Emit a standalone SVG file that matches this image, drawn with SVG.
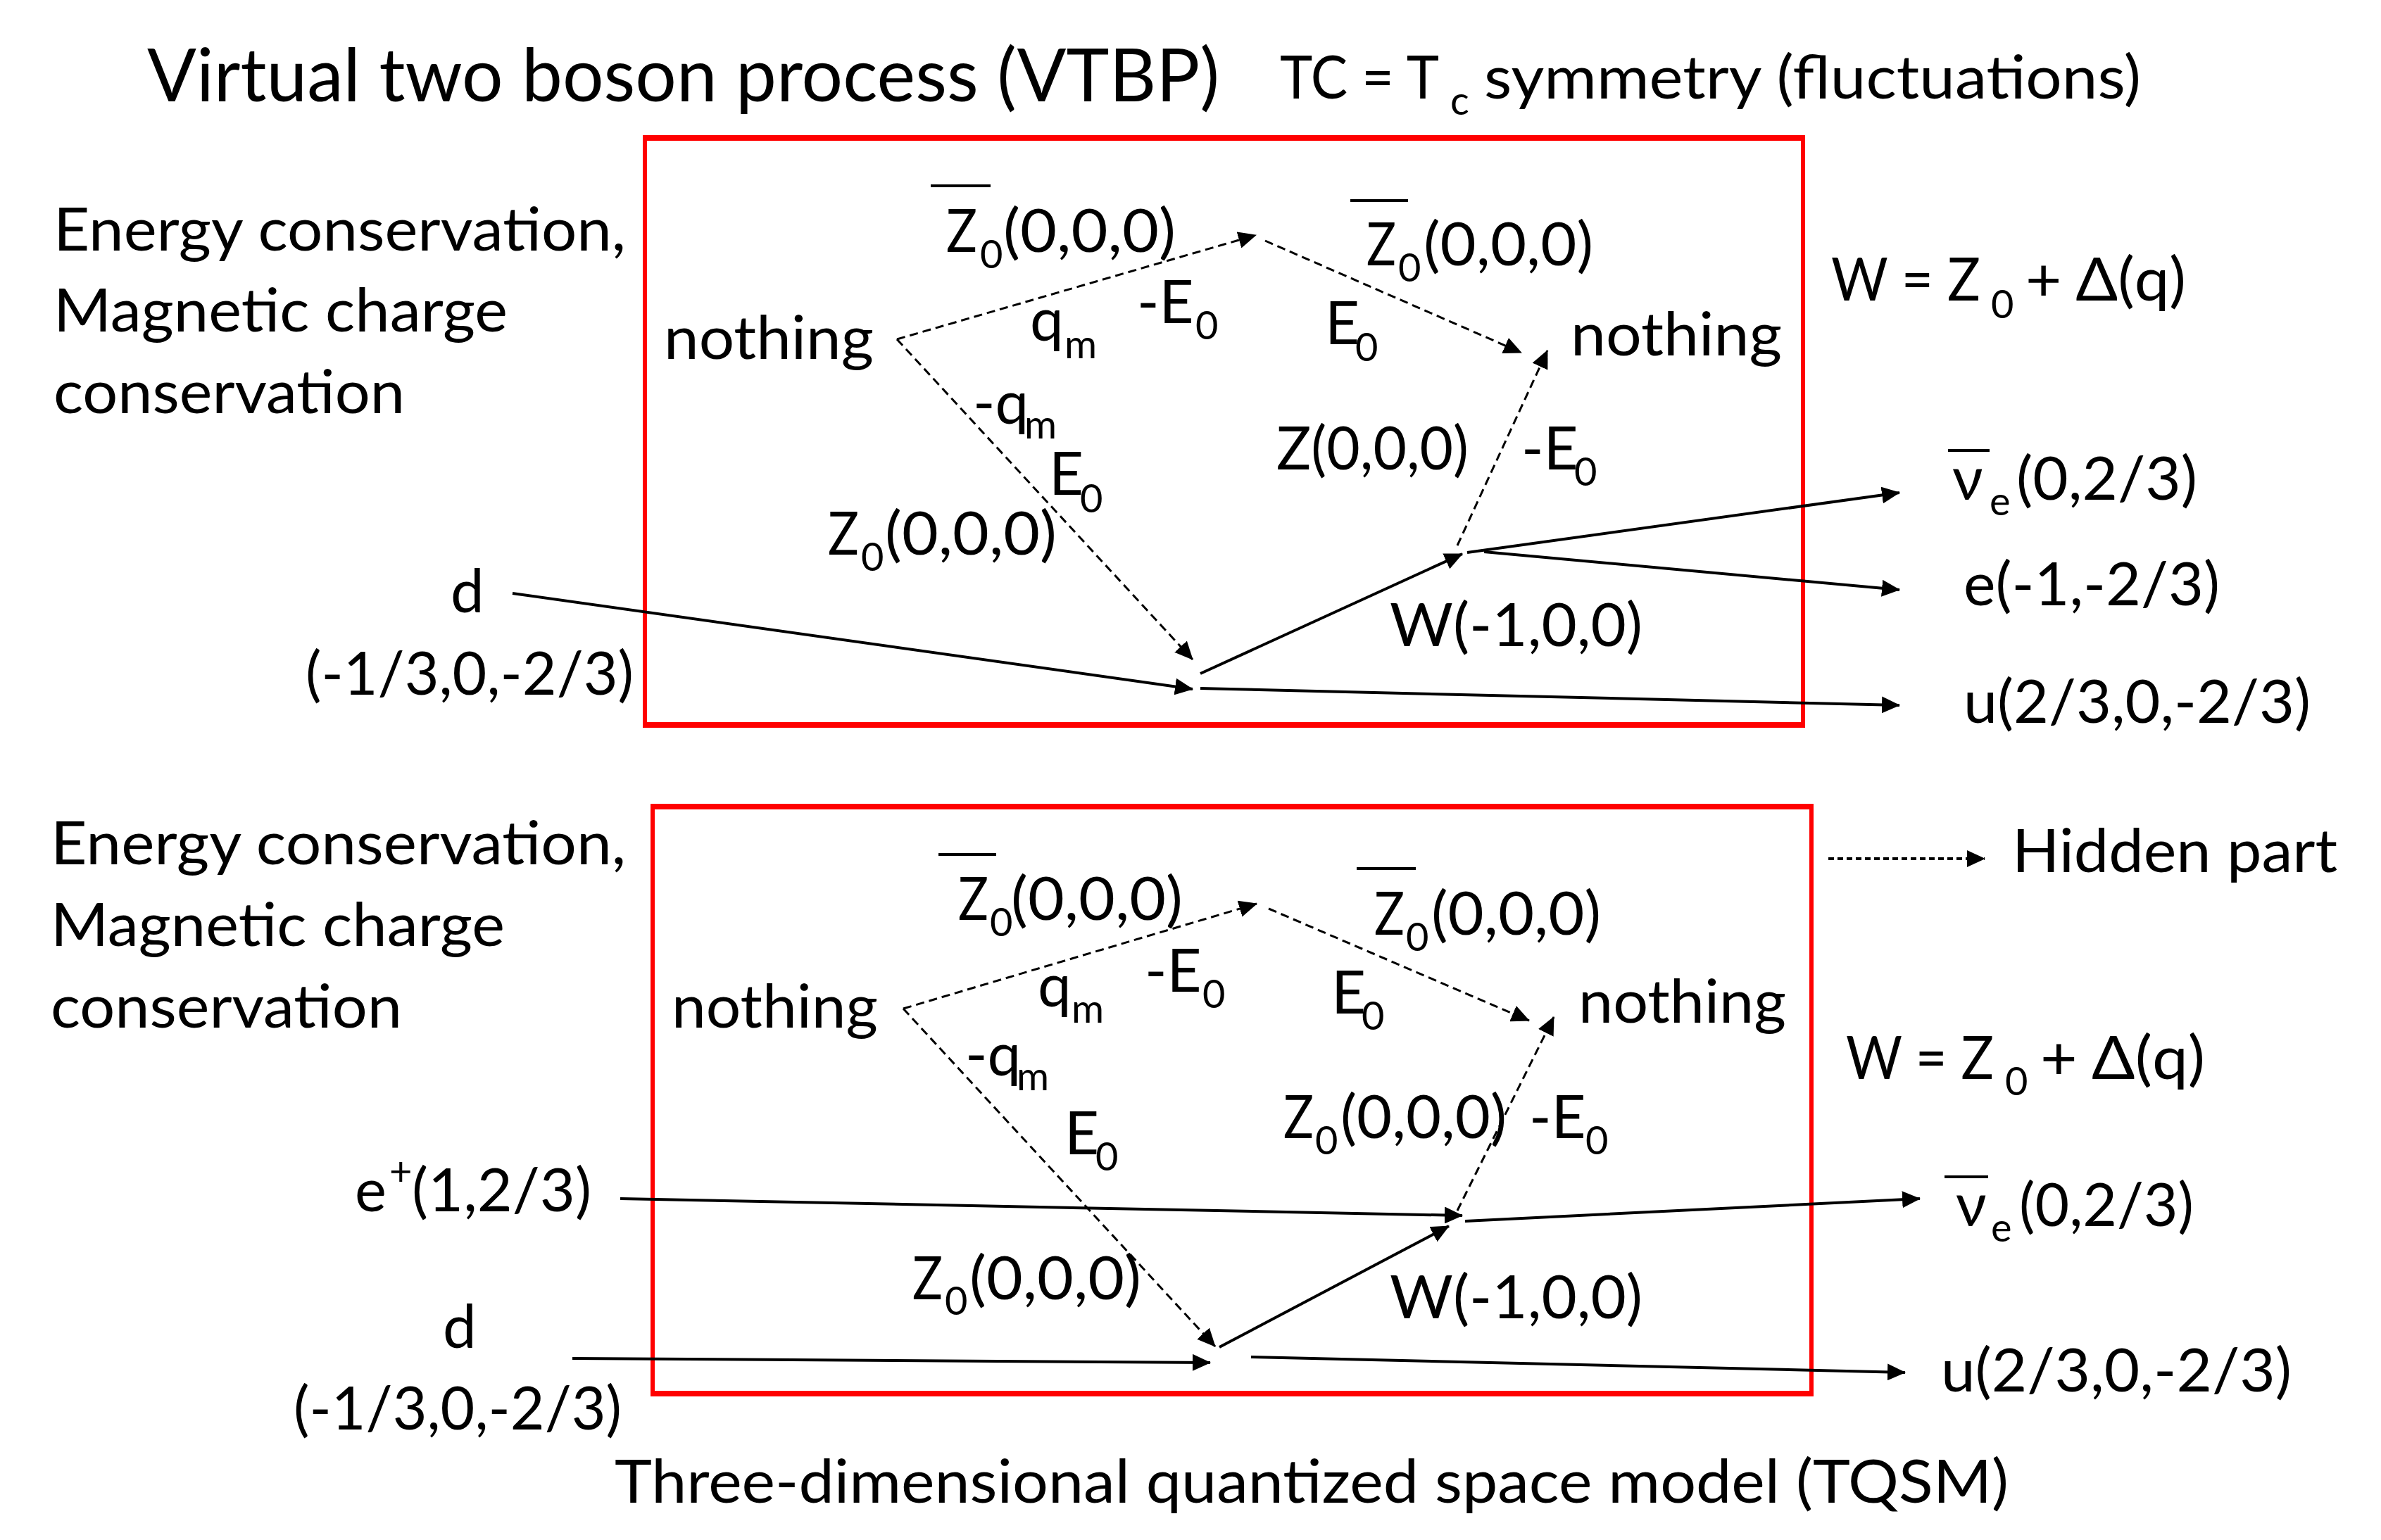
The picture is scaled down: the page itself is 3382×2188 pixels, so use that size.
<svg xmlns="http://www.w3.org/2000/svg" width="3382" height="2188" viewBox="0 0 3382 2188">
<style>
.t{font-family:Lato,"Open Sans","Liberation Sans",sans-serif;font-size:85px;fill:#000}
.s{font-size:56px}
.title{font-size:105px}
.box{fill:none;stroke:#f00;stroke-width:6}
.boxh{stroke:#f00;stroke-width:8}
.sol{stroke:#000;stroke-width:4;fill:none;marker-end:url(#ah)}
.dash{stroke:#000;stroke-width:3;fill:none;stroke-dasharray:12 7;marker-end:url(#ah)}
.dot{stroke:#000;stroke-width:4;fill:none;stroke-dasharray:8 5;marker-end:url(#ah)}
.bar{stroke:#000;stroke-width:4}
</style>
<defs>
<marker id="ah" markerUnits="userSpaceOnUse" markerWidth="26" markerHeight="24" refX="25" refY="12" orient="auto"><path d="M0,0 L26,12 L0,24 z" fill="#000"/></marker>
</defs>
<rect width="3382" height="2188" fill="#fff"/>

<g id="headers">
<text class="t title" x="209" y="144" textLength="1523" lengthAdjust="spacingAndGlyphs">Virtual two boson process (VTBP)</text>
<text class="t" x="1818" y="140" textLength="226" lengthAdjust="spacingAndGlyphs">TC = T</text>
<text class="t s" x="2060" y="163">c</text>
<text class="t" x="2108" y="140" textLength="933" lengthAdjust="spacingAndGlyphs">symmetry (fluctuations)</text>
<text class="t" x="873" y="2135" textLength="1980" lengthAdjust="spacingAndGlyphs">Three-dimensional quantized space model (TQSM)</text>
</g>

<g id="boxes">
<rect class="box" x="916" y="196" width="1645" height="834"/>
<line class="boxh" x1="913" y1="196" x2="2564" y2="196"/>
<line class="boxh" x1="913" y1="1030" x2="2564" y2="1030"/>
<rect class="box" x="927" y="1146" width="1646" height="834"/>
<line class="boxh" x1="924" y1="1146" x2="2576" y2="1146"/>
<line class="boxh" x1="924" y1="1980" x2="2576" y2="1980"/>
</g>

<g id="connectors">
<line class="dash" x1="1274" y1="482" x2="1784" y2="334"/>
<line class="dash" x1="1797" y1="342" x2="2161" y2="501"/>
<line class="dash" x1="1274" y1="482" x2="1694" y2="937"/>
<line class="dash" x1="2070" y1="775" x2="2198" y2="498"/>
<line class="sol" x1="728" y1="843" x2="1694" y2="979"/>
<line class="sol" x1="1705" y1="957" x2="2077" y2="787"/>
<line class="sol" x1="2084" y1="785" x2="2698" y2="700"/>
<line class="sol" x1="2108" y1="784" x2="2698" y2="838"/>
<line class="sol" x1="1705" y1="978" x2="2698" y2="1002"/>
<line class="dash" x1="1283" y1="1433" x2="1785" y2="1284"/>
<line class="dash" x1="1802" y1="1291" x2="2172" y2="1450"/>
<line class="dash" x1="1283" y1="1433" x2="1726" y2="1913"/>
<line class="dash" x1="2070" y1="1720" x2="2207" y2="1445"/>
<line class="sol" x1="881" y1="1703" x2="2077" y2="1727"/>
<line class="sol" x1="2081" y1="1735" x2="2727" y2="1703"/>
<line class="sol" x1="1732" y1="1914" x2="2058" y2="1742"/>
<line class="sol" x1="813" y1="1930" x2="1719" y2="1936"/>
<line class="sol" x1="1777" y1="1928" x2="2706" y2="1950"/>
<line class="dot" x1="2597" y1="1220" x2="2819" y2="1220"/>
</g>

<g id="top-conservation">
<text class="t" x="76" y="356" textLength="813" lengthAdjust="spacingAndGlyphs">Energy conservation,</text>
<text class="t" x="76" y="471" textLength="645" lengthAdjust="spacingAndGlyphs">Magnetic charge</text>
<text class="t" x="76" y="587" textLength="499" lengthAdjust="spacingAndGlyphs">conservation</text>
</g>
<g id="top-nothing-left"><text class="t" x="943" y="510" textLength="298" lengthAdjust="spacingAndGlyphs">nothing</text></g>
<g id="top-nothing-right"><text class="t" x="2231" y="505" textLength="300" lengthAdjust="spacingAndGlyphs">nothing</text></g>
<g id="top-z0bar-left">
<line class="bar" x1="1322" y1="264" x2="1407" y2="264"/>
<text class="t" x="1344" y="358" textLength="44" lengthAdjust="spacingAndGlyphs">Z</text><text class="t s" x="1392" y="381">0</text>
<text class="t" x="1425" y="358" textLength="245" lengthAdjust="spacingAndGlyphs">(0,0,0)</text>
</g>
<g id="top-z0bar-right">
<line class="bar" x1="1918" y1="285" x2="2000" y2="285"/>
<text class="t" x="1941" y="377" textLength="42" lengthAdjust="spacingAndGlyphs">Z</text><text class="t s" x="1986" y="400">0</text>
<text class="t" x="2022" y="377" textLength="241" lengthAdjust="spacingAndGlyphs">(0,0,0)</text>
</g>
<g id="top-qm"><text class="t" x="1463" y="484">q</text><text class="t s" x="1512" y="509">m</text></g>
<g id="top-mE0a"><text class="t" x="1615" y="459">-E</text><text class="t s" x="1698" y="482">0</text></g>
<g id="top-E0b"><text class="t" x="1882" y="489">E</text><text class="t s" x="1925" y="513">0</text></g>
<g id="top-mqm"><text class="t" x="1382" y="602">-q</text><text class="t s" x="1455" y="623">m</text></g>
<g id="top-E0c"><text class="t" x="1490" y="703">E</text><text class="t s" x="1534" y="728">0</text></g>
<g id="top-z0-lower">
<text class="t" x="1176" y="788" textLength="44" lengthAdjust="spacingAndGlyphs">Z</text><text class="t s" x="1223" y="811">0</text>
<text class="t" x="1257" y="788" textLength="244" lengthAdjust="spacingAndGlyphs">(0,0,0)</text>
</g>
<g id="top-z"><text class="t" x="1813" y="667" textLength="273" lengthAdjust="spacingAndGlyphs">Z(0,0,0)</text></g>
<g id="top-mE0d"><text class="t" x="2161" y="667">-E</text><text class="t s" x="2236" y="690">0</text></g>
<g id="top-w"><text class="t" x="1974" y="918" textLength="359" lengthAdjust="spacingAndGlyphs">W(-1,0,0)</text></g>
<g id="top-weq">
<text class="t" x="2601" y="427" textLength="212" lengthAdjust="spacingAndGlyphs">W = Z</text>
<text class="t s" x="2828" y="452">0</text>
<text class="t" x="2877" y="427" textLength="228" lengthAdjust="spacingAndGlyphs">+ Δ(q)</text>
</g>
<g id="top-nu">
<line class="bar" x1="2767" y1="640" x2="2826" y2="640"/>
<text class="t" x="2773" y="710">ν</text><text class="t s" x="2826" y="732">e</text>
<text class="t" x="2864" y="710" textLength="257" lengthAdjust="spacingAndGlyphs">(0,2/3)</text>
</g>
<g id="top-e"><text class="t" x="2789" y="860" textLength="364" lengthAdjust="spacingAndGlyphs">e(-1,-2/3)</text></g>
<g id="top-u"><text class="t" x="2789" y="1027" textLength="493" lengthAdjust="spacingAndGlyphs">u(2/3,0,-2/3)</text></g>
<g id="top-d">
<text class="t" x="640" y="870">d</text>
<text class="t" x="434" y="987" textLength="466" lengthAdjust="spacingAndGlyphs">(-1/3,0,-2/3)</text>
</g>

<g id="bot-conservation">
<text class="t" x="72" y="1228" textLength="817" lengthAdjust="spacingAndGlyphs">Energy conservation,</text>
<text class="t" x="72" y="1344" textLength="645" lengthAdjust="spacingAndGlyphs">Magnetic charge</text>
<text class="t" x="72" y="1460" textLength="499" lengthAdjust="spacingAndGlyphs">conservation</text>
</g>
<g id="bot-nothing-left"><text class="t" x="954" y="1460" textLength="293" lengthAdjust="spacingAndGlyphs">nothing</text></g>
<g id="bot-nothing-right"><text class="t" x="2242" y="1453" textLength="295" lengthAdjust="spacingAndGlyphs">nothing</text></g>
<g id="bot-z0bar-left">
<line class="bar" x1="1333" y1="1214" x2="1415" y2="1214"/>
<text class="t" x="1361" y="1307" textLength="43" lengthAdjust="spacingAndGlyphs">Z</text><text class="t s" x="1406" y="1330">0</text>
<text class="t" x="1436" y="1307" textLength="244" lengthAdjust="spacingAndGlyphs">(0,0,0)</text>
</g>
<g id="bot-z0bar-right">
<line class="bar" x1="1927" y1="1234" x2="2011" y2="1234"/>
<text class="t" x="1952" y="1328" textLength="43" lengthAdjust="spacingAndGlyphs">Z</text><text class="t s" x="1997" y="1351">0</text>
<text class="t" x="2033" y="1328" textLength="241" lengthAdjust="spacingAndGlyphs">(0,0,0)</text>
</g>
<g id="bot-qm"><text class="t" x="1474" y="1430">q</text><text class="t s" x="1522" y="1453">m</text></g>
<g id="bot-mE0a"><text class="t" x="1626" y="1409">-E</text><text class="t s" x="1708" y="1432">0</text></g>
<g id="bot-E0b"><text class="t" x="1891" y="1440">E</text><text class="t s" x="1934" y="1463">0</text></g>
<g id="bot-mqm"><text class="t" x="1371" y="1528">-q</text><text class="t s" x="1444" y="1549">m</text></g>
<g id="bot-E0c"><text class="t" x="1512" y="1640">E</text><text class="t s" x="1556" y="1663">0</text></g>
<g id="bot-z0-lower">
<text class="t" x="1296" y="1846" textLength="43" lengthAdjust="spacingAndGlyphs">Z</text><text class="t s" x="1342" y="1868">0</text>
<text class="t" x="1377" y="1846" textLength="244" lengthAdjust="spacingAndGlyphs">(0,0,0)</text>
</g>
<g id="bot-z0-mid">
<text class="t" x="1823" y="1617" textLength="43" lengthAdjust="spacingAndGlyphs">Z</text><text class="t s" x="1868" y="1640">0</text>
<text class="t" x="1904" y="1617" textLength="236" lengthAdjust="spacingAndGlyphs">(0,0,0)</text>
</g>
<g id="bot-mE0d"><text class="t" x="2172" y="1617">-E</text><text class="t s" x="2252" y="1640">0</text></g>
<g id="bot-w"><text class="t" x="1974" y="1873" textLength="359" lengthAdjust="spacingAndGlyphs">W(-1,0,0)</text></g>
<g id="bot-weq">
<text class="t" x="2622" y="1533" textLength="210" lengthAdjust="spacingAndGlyphs">W = Z</text>
<text class="t s" x="2848" y="1556">0</text>
<text class="t" x="2898" y="1533" textLength="234" lengthAdjust="spacingAndGlyphs">+ Δ(q)</text>
</g>
<g id="bot-hidden"><text class="t" x="2858" y="1239" textLength="462" lengthAdjust="spacingAndGlyphs">Hidden part</text></g>
<g id="bot-eplus">
<text class="t" x="504" y="1721">e</text><text class="t s" x="553" y="1684">+</text>
<text class="t" x="585" y="1721" textLength="255" lengthAdjust="spacingAndGlyphs">(1,2/3)</text>
</g>
<g id="bot-nu">
<line class="bar" x1="2762" y1="1672" x2="2824" y2="1672"/>
<text class="t" x="2778" y="1742">ν</text><text class="t s" x="2828" y="1764">e</text>
<text class="t" x="2868" y="1742" textLength="248" lengthAdjust="spacingAndGlyphs">(0,2/3)</text>
</g>
<g id="bot-u"><text class="t" x="2757" y="1977" textLength="498" lengthAdjust="spacingAndGlyphs">u(2/3,0,-2/3)</text></g>
<g id="bot-d">
<text class="t" x="629" y="1915">d</text>
<text class="t" x="417" y="2031" textLength="466" lengthAdjust="spacingAndGlyphs">(-1/3,0,-2/3)</text>
</g>
</svg>
